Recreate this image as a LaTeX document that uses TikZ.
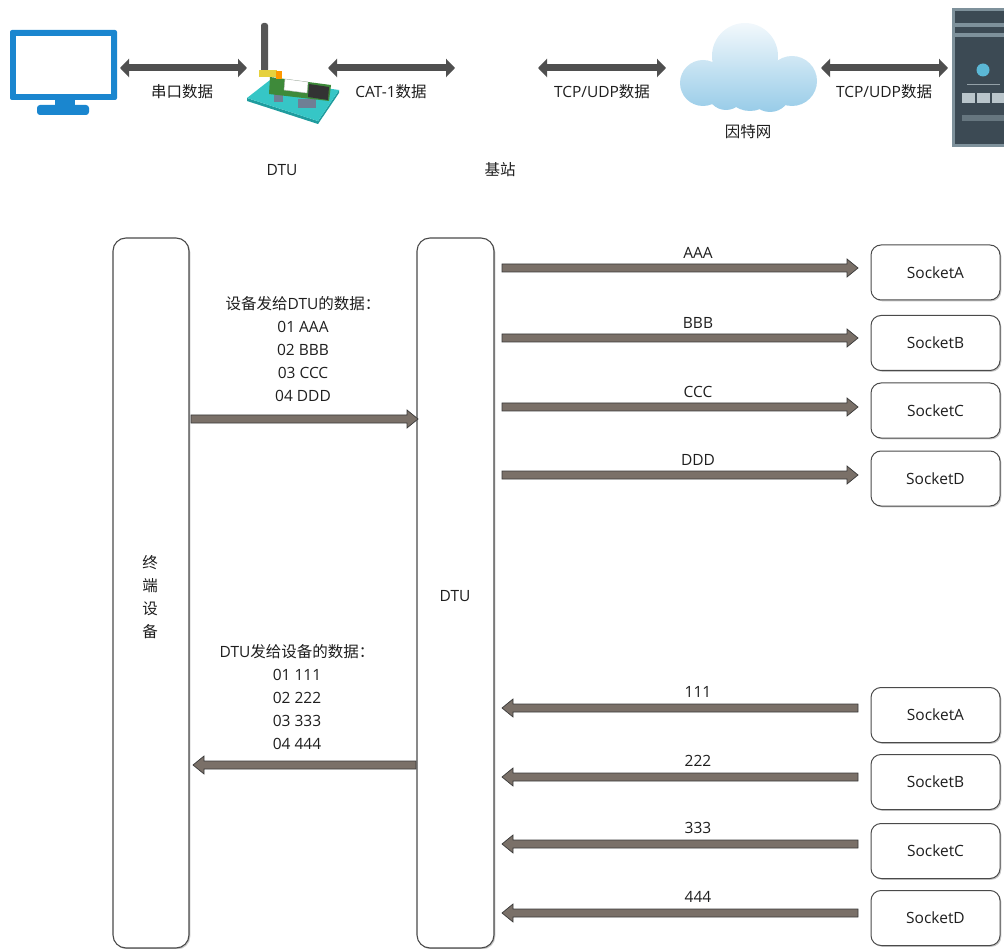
\documentclass[tikz,border=0pt]{standalone}
\usepackage{fontspec}
\setmainfont{Open Sans}
\newfontfamily\cjk{Noto Sans CJK SC}[Scale=1.0]
\usetikzlibrary{arrows.meta,calc,shadows}

\definecolor{txt}{HTML}{1E1E1E}
\definecolor{monblue}{HTML}{1A86CF}
\definecolor{topgray}{HTML}{4F4F4F}
\definecolor{lanegray}{HTML}{4A4A4A}
\definecolor{arrowfill}{HTML}{7A7068}
\definecolor{arrowedge}{HTML}{3A3A3A}
\definecolor{cloudtop}{HTML}{F2F8FC}
\definecolor{cloudbot}{HTML}{98CCE8}
\definecolor{srvframe}{HTML}{7E919B}
\definecolor{srvdark}{HTML}{3C4A54}
\definecolor{srvlight}{HTML}{B9C5CB}
\definecolor{srvdot}{HTML}{5BB8D6}
\definecolor{srvbar}{HTML}{66767F}
\definecolor{tealbase}{HTML}{36C6C6}
\definecolor{tealedge}{HTML}{1F9C9E}
\definecolor{pcbgreen}{HTML}{3E8A3A}
\definecolor{pingray}{HTML}{6F7F95}
\definecolor{antgray}{HTML}{575757}
\definecolor{antyellow}{HTML}{E6D13E}

\begin{document}
\begin{tikzpicture}[x=1pt,y=-1pt,
  font=\fontsize{15.5}{23}\selectfont, text=txt,
  lbl/.style={inner sep=0pt, anchor=center},
  lane/.style={draw=lanegray, line width=1.1pt, rounded corners=13pt, fill=white,
    drop shadow={shadow xshift=1.3pt, shadow yshift=-1.3pt, fill=black, opacity=0.22},
    align=center, inner sep=0pt},
  sock/.style={draw=lanegray, line width=1pt, rounded corners=10pt, fill=white,
    minimum width=129pt, minimum height=55pt, inner sep=0pt,
    drop shadow={shadow xshift=1.3pt, shadow yshift=-1.3pt, fill=black, opacity=0.22}},
  dbl/.style={draw=topgray, line width=7pt,
    {Triangle[width=18pt,length=9pt]}-{Triangle[width=18pt,length=9pt]}},
  fat/.style={fill=arrowfill, draw=arrowedge, line width=0.7pt, line join=miter,
    to path={let \p1=(\tikztostart), \p2=(\tikztotarget), \n1={sign(\x2-\x1)} in
      (\x1,{\y1+4pt}) -- ({\x2-\n1*11pt},{\y1+4pt}) -- ({\x2-\n1*11pt},{\y1+9pt})
      -- (\x2,\y1) -- ({\x2-\n1*11pt},{\y1-9pt}) -- ({\x2-\n1*11pt},{\y1-4pt})
      -- (\x1,{\y1-4pt}) -- cycle}}
]
\useasboundingbox (0,0) rectangle (1004,949);

% ---------- top row: PC, DTU, base station, internet, server ----------
% monitor
\fill[monblue, rounded corners=2pt] (10,30) rectangle (117,100);
\fill[white] (16,36) rectangle (111,94);
\fill[monblue] (55,99) rectangle (75,108);
\fill[monblue, rounded corners=3pt] (37,105) rectangle (89,115);

% DTU device
\fill[tealedge] (247,98) -- (318,121) -- (318,124) -- (247,101) -- cycle;
\fill[tealedge] (318,121) -- (339,90) -- (339,93) -- (318,124) -- cycle;
\fill[tealbase] (247,98) -- (270,80) -- (339,90) -- (318,121) -- cycle;
\fill[pingray] (274,93) rectangle (283,102);
\fill[pingray] (298,99) rectangle (316,108);
\fill[pcbgreen] (270,77) -- (331,85) -- (329,101) -- (269,94) -- cycle;
\fill[white, draw=gray!50, line width=0.4pt] (285,79) -- (308,82) -- (307,93) -- (284,90) -- cycle;
\fill[black!80] (309,84) -- (329,87) -- (328,100) -- (308,97) -- cycle;
\fill[antgray, rounded corners=2.5pt] (261,72) -- (261,23) -- (268,23) -- (268,72) -- cycle;
\fill[antyellow] (259,70) rectangle (277,77);
\fill[orange!80!yellow] (276,71) rectangle (282,79);

% cloud
\shade[top color=cloudtop, bottom color=cloudbot]
  (745,56) circle[radius=33] (703,83) circle[radius=23] (792,81) circle[radius=25]
  (726,91) circle[radius=19] (770,91) circle[radius=21] (750,84) circle[radius=27];

% server
\fill[srvframe] (952,8) rectangle (1006,147);
\fill[srvdark] (955,11) rectangle (1006,23);
\fill[srvdark] (955,27) rectangle (1006,33);
\fill[srvdark] (955,37) rectangle (1006,144);
\fill[srvdot] (983,70) circle[radius=6.5];
\draw[srvlight!70!srvdark, line width=1pt] (967,85) -- (1000,85);
\fill[srvlight] (962,93) rectangle (975,103);
\fill[srvlight] (977,93) rectangle (990,103);
\fill[srvlight] (992,93) rectangle (1006,103);
\fill[srvbar] (962,115) rectangle (1006,121);

% double-headed data links
\coordinate (t1a) at (120,68);  \coordinate (t1b) at (247,68);
\coordinate (t2a) at (328,68);  \coordinate (t2b) at (455,68);
\coordinate (t3a) at (538,68);  \coordinate (t3b) at (666,68);
\coordinate (t4a) at (821,68);  \coordinate (t4b) at (948,68);
\draw[dbl] (t1a) -- (t1b);
\draw[dbl] (t2a) -- (t2b);
\draw[dbl] (t3a) -- (t3b);
\draw[dbl] (t4a) -- (t4b);

\node[lbl] (l1) at (182,92) {{\cjk 串口数据}};
\node[lbl] (l2) at (391,92) {CAT-1{\cjk 数据}};
\node[lbl] (l3) at (602,92) {TCP/UDP{\cjk 数据}};
\node[lbl] (l4) at (884,92) {TCP/UDP{\cjk 数据}};
\node[lbl] (lnet) at (748,132) {{\cjk 因特网}};
\node[lbl] (ldtu) at (282,170) {DTU};
\node[lbl] (lbs) at (500,170) {{\cjk 基站}};

% ---------- lower part: terminal, DTU and sockets ----------
\node[lane, minimum width=76pt, minimum height=710pt] (term) at (151,593) {};
\node[lbl, align=center] (termtxt) at (150,597)
  {{\cjk 终}\\{\cjk 端}\\{\cjk 设}\\{\cjk 备}};
\node[lane, minimum width=77pt, minimum height=710pt] (dtu) at (455.5,593) {};
\node[lbl] (dtutxt) at (455,596) {DTU};

\node[sock] (sA) at (935.5,272.5) {SocketA};
\node[sock] (sB) at (935.5,343) {SocketB};
\node[sock] (sC) at (935.5,410.5) {SocketC};
\node[sock] (sD) at (935.5,478.5) {SocketD};
\node[sock] (rA) at (935.5,715) {SocketA};
\node[sock] (rB) at (935.5,782) {SocketB};
\node[sock] (rC) at (935.5,851) {SocketC};
\node[sock] (rD) at (935.5,918) {SocketD};

% terminal -> DTU
\coordinate (up1) at (191,419);
\coordinate (up2) at (418,419);
\draw[fat] (up1) to (up2);
\node[lbl, align=center] (uptxt) at (303,349)
  {{\cjk 设备发给}DTU{\cjk 的数据：}\\01 AAA\\02 BBB\\03 CCC\\04 DDD};

% DTU -> terminal
\coordinate (dn1) at (416,765);
\coordinate (dn2) at (193,765);
\draw[fat] (dn1) to (dn2);
\node[lbl, align=center] (dntxt) at (297,697.5)
  {DTU{\cjk 发给设备的数据：}\\01 111\\02 222\\03 333\\04 444};

% DTU -> sockets
\foreach \nm/\yy/\tt in {oA/268/AAA, oB/338/BBB, oC/407/CCC, oD/475/DDD}{
  \coordinate (\nm s) at (502,\yy);
  \coordinate (\nm e) at (858,\yy);
  \draw[fat] (\nm s) to (\nm e);
  \node[lbl] (\nm t) at (698,\yy-15) {\tt};
}

% sockets -> DTU
\foreach \nm/\yy/\tt in {iA/708/111, iB/777/222, iC/844/333, iD/913/444}{
  \coordinate (\nm s) at (858,\yy);
  \coordinate (\nm e) at (502,\yy);
  \draw[fat] (\nm s) to (\nm e);
  \node[lbl] (\nm t) at (698,\yy-16) {\tt};
}
\end{tikzpicture}
\end{document}
